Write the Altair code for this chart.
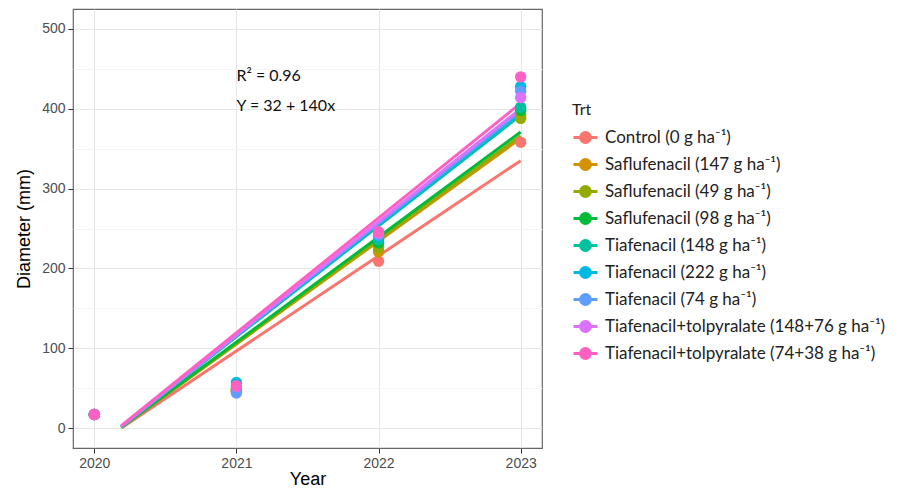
import altair as alt
import pandas as pd

treatments = [
    "Control (0 g ha⁻¹)",
    "Saflufenacil (147 g ha⁻¹)",
    "Saflufenacil (49 g ha⁻¹)",
    "Saflufenacil (98 g ha⁻¹)",
    "Tiafenacil (148 g ha⁻¹)",
    "Tiafenacil (222 g ha⁻¹)",
    "Tiafenacil (74 g ha⁻¹)",
    "Tiafenacil+tolpyralate (148+76 g ha⁻¹)",
    "Tiafenacil+tolpyralate (74+38 g ha⁻¹)",
]
colors = ["#F8766D", "#D39200", "#93AA00", "#00BA38", "#00C19F",
          "#00B9E3", "#619CFF", "#DB72FB", "#FF61C3"]

years = [2020, 2021, 2022, 2023]
# observed mean diameters (mm) per treatment, per year
obs_2020 = [17, 17, 17, 17, 17, 17, 17, 17, 17]
obs_2021 = [45, 47, 46, 48, 50, 57, 44, 52, 53]
obs_2022 = [209, 221, 226, 232, 236, 240, 242, 244, 246]
obs_2023 = [358, 392, 388, 398, 402, 428, 422, 414, 440]

# fitted regression lines: start / end
fit_x_start = 2020.19
fit_x_end = 2023
fit_y_start = [0, 1, 1, 1, 2, 2, 2, 2, 3]
fit_y_end = [335, 363, 366, 371, 392, 395, 397, 400, 407]

ann_x = [2021, 2021]
ann_y = [441, 404]
ann_text = ["R² = 0.96", "Y = 32 + 140x"]

rows = []
for i, t in enumerate(treatments):
    for y, vals in zip(years, [obs_2020, obs_2021, obs_2022, obs_2023]):
        rows.append({"Trt": t, "Year": y, "Diameter": vals[i]})
pts = pd.DataFrame(rows)

lrows = []
for i, t in enumerate(treatments):
    lrows.append({"Trt": t, "Year": fit_x_start, "Diameter": fit_y_start[i]})
    lrows.append({"Trt": t, "Year": fit_x_end, "Diameter": fit_y_end[i]})
lines = pd.DataFrame(lrows)

ann = pd.DataFrame({"x": ann_x, "y": ann_y, "t": ann_text})

sym = "M-1,0L1,0M-0.42,0A0.42,0.42,0,1,1,0.42,0A0.42,0.42,0,1,1,-0.42,0Z"

xscale = alt.Scale(domain=[2019.85, 2023.15], nice=False, zero=False)
yscale = alt.Scale(domain=[-25, 525], nice=False)

minor_test = "datum.value % 1 != 0"
xaxis = alt.Axis(
    values=[2020, 2020.5, 2021, 2021.5, 2022, 2022.5, 2023],
    labelExpr="datum.value % 1 == 0 ? datum.value : ''",
    title="Year", format="d",
    gridColor={"condition": {"test": minor_test, "value": "#f4f4f4"}, "value": "#e6e6e6"},
    tickOpacity={"condition": {"test": minor_test, "value": 0}, "value": 1},
)
ymtest = "datum.value % 100 != 0"
yaxis = alt.Axis(
    values=[0, 50, 100, 150, 200, 250, 300, 350, 400, 450, 500],
    labelExpr="datum.value % 100 == 0 ? datum.value : ''",
    title="Diameter (mm)",
    gridColor={"condition": {"test": ymtest, "value": "#f4f4f4"}, "value": "#e6e6e6"},
    tickOpacity={"condition": {"test": ymtest, "value": 0}, "value": 1},
)

color = alt.Color(
    "Trt:N",
    scale=alt.Scale(domain=treatments, range=colors),
    sort=treatments,
    legend=alt.Legend(
        title="Trt", orient="none", legendX=499, legendY=93,
        symbolType=sym, symbolSize=576, symbolStrokeWidth=2.8,
        labelFont="Lato", labelFontSize=17, labelColor="#222", labelLimit=400,
        titleFont="Lato", titleFontSize=16, titleFontWeight="normal",
        titleColor="#222", rowPadding=2, symbolOffset=0, labelOffset=6,
        titlePadding=6,
    ),
)

line_layer = alt.Chart(lines).mark_line(strokeWidth=3).encode(
    x=alt.X("Year:Q", scale=xscale, axis=xaxis),
    y=alt.Y("Diameter:Q", scale=yscale, axis=yaxis),
    color=color,
    detail="Trt:N",
)
pt_layer = alt.Chart(pts).mark_point(filled=True, size=130, opacity=1).encode(
    x=alt.X("Year:Q", scale=xscale),
    y=alt.Y("Diameter:Q", scale=yscale),
    color=color,
)
txt_layer = alt.Chart(ann).mark_text(align="left", font="Lato", fontSize=16, color="#111").encode(
    x=alt.X("x:Q", scale=xscale),
    y=alt.Y("y:Q", scale=yscale),
    text="t:N",
)

chart = alt.layer(line_layer, pt_layer, txt_layer).properties(
    width=469, height=439,
    autosize=alt.AutoSizeParams(type="none"),
    padding={"left": 65, "top": 1, "right": 350, "bottom": 42},
).configure_view(
    stroke="#666", strokeWidth=1.2,
).configure_axis(
    labelFont="Liberation Sans", labelFontSize=14, labelColor="#4d4d4d",
    titleFont="Liberation Sans", titleFontSize=18, titleFontWeight="normal",
    titleColor="#000", tickColor="#333", tickSize=5, domain=False,
    labelPadding=3,
).configure_axisX(titlePadding=0).configure_axisY(titlePadding=8)

chart.save("out.html", embed_options={"renderer": "svg", "actions": False})
